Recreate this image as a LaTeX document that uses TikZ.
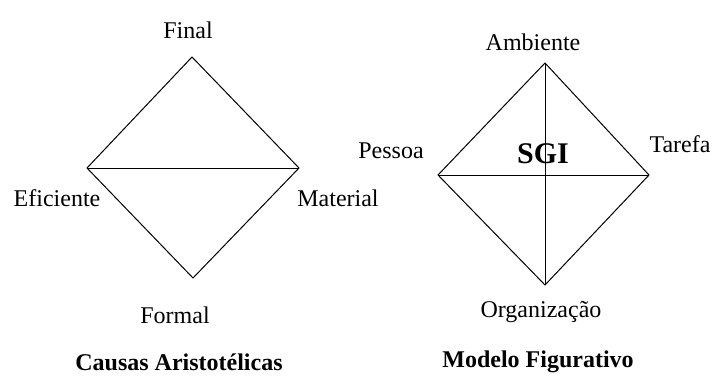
\documentclass[tikz,border=0pt]{standalone}
\usepackage{fontspec}
\setmainfont{Liberation Serif}
\usetikzlibrary{calc}

\begin{document}
\begin{tikzpicture}[x=0.5pt, y=-0.5pt, edge/.style={line width=0.5pt}, lbl/.style={anchor=base, inner sep=0pt, font=\fontsize{12}{14}\selectfont}, title/.style={lbl, font=\fontsize{12}{14}\selectfont\bfseries}]
\useasboundingbox (0, 0) rectangle (713, 376);

% causas aristotelicas
\coordinate (fin) at (192, 57);
\coordinate (efi) at (87, 168);
\coordinate (mat) at (299, 168);
\coordinate (for) at (193, 278);

\draw[edge] (fin) -- (mat) -- (for) -- (efi) -- cycle;
\draw[edge] (efi) -- (mat);

\node[lbl] (tfin) at (188, 38) {Final};
\node[lbl] (tefi) at (57, 206) {Eficiente};
\node[lbl] (tmat) at (338, 206) {Material};
\node[lbl] (tfor) at (175, 323) {Formal};
\node[title] (causas) at (179, 370) {Causas Aristotélicas};

% modelo figurativo
\coordinate (amb) at (545, 63);
\coordinate (pes) at (438, 175);
\coordinate (tar) at (649, 175);
\coordinate (org) at (545, 285);

\draw[edge] (amb) -- (tar) -- (org) -- (pes) -- cycle;
\draw[edge] (pes) -- (tar);
\draw[edge] (amb) -- (org);

\node[lbl] (tamb) at (533, 50) {Ambiente};
\node[lbl] (tpes) at (391, 158) {Pessoa};
\node[lbl] (ttar) at (680, 152) {Tarefa};
\node[lbl, font=\fontsize{15}{18}\selectfont\bfseries] (sgi) at (543, 163) {SGI};
\node[lbl] (torg) at (541, 317) {Organização};
\node[title] (modelo) at (538, 367) {Modelo Figurativo};
\end{tikzpicture}
\end{document}
